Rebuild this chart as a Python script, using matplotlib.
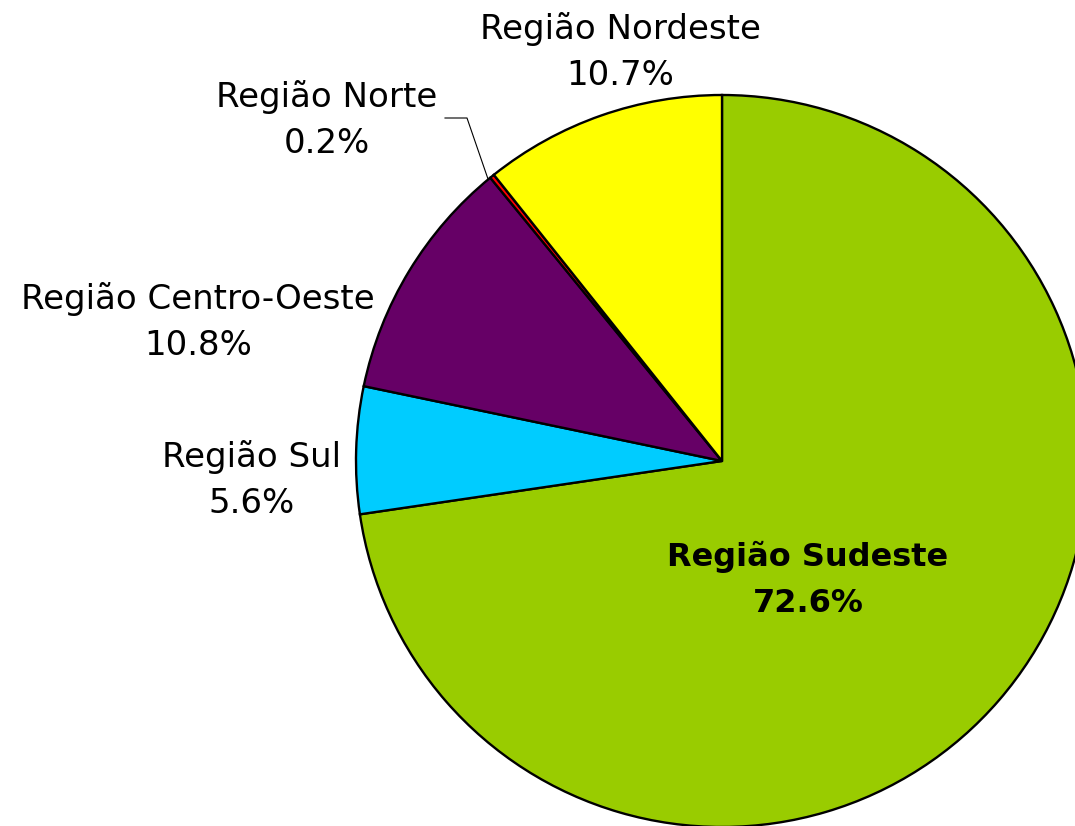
import matplotlib.pyplot as plt

# Data
regioes = ['Região Sudeste', 'Região Sul', 'Região Centro-Oeste', 'Região Norte', 'Região Nordeste']
percentuais = [72.6, 5.6, 10.8, 0.2, 10.7]
cores = ['#99CC00', '#00CCFF', '#660066', '#FF0000', '#FFFF00']

W, H = 1075, 826
fig = plt.figure(figsize=(W / 100, H / 100), dpi=100)
ax = fig.add_axes([0, 0, 1, 1])

cx, cy, r = 722, H - 461, 366
ax.pie(percentuais, colors=cores, startangle=90, counterclock=False,
       center=(cx, cy), radius=r,
       wedgeprops={'edgecolor': 'black', 'linewidth': 1.7})
ax.set_xlim(0, W)
ax.set_ylim(0, H)
ax.axis('off')

fs = 24.5
# label positions in pixel coords (x, y from top)
pos = {
    'Região Nordeste': (620, 52),
    'Região Norte': (327, 120),
    'Região Centro-Oeste': (198, 322),
    'Região Sul': (252, 480),
}
for nome, p in zip(regioes, percentuais):
    if nome in pos:
        x, y = pos[nome]
        ax.text(x, H - y, f'{nome}\n{p:.1f}%', ha='center', va='center',
                fontsize=fs, linespacing=1.5, family='DejaVu Sans')

ax.text(808, H - 580, f'{regioes[0]}\n{percentuais[0]:.1f}%', ha='center', va='center',
        fontsize=23, fontweight='bold', linespacing=1.6, family='DejaVu Sans')

# leader line for Norte
ax.plot([445, 467, 488], [H - 118, H - 118, H - 179], color='black', linewidth=0.8)

fig.savefig('out.png', dpi=100)
